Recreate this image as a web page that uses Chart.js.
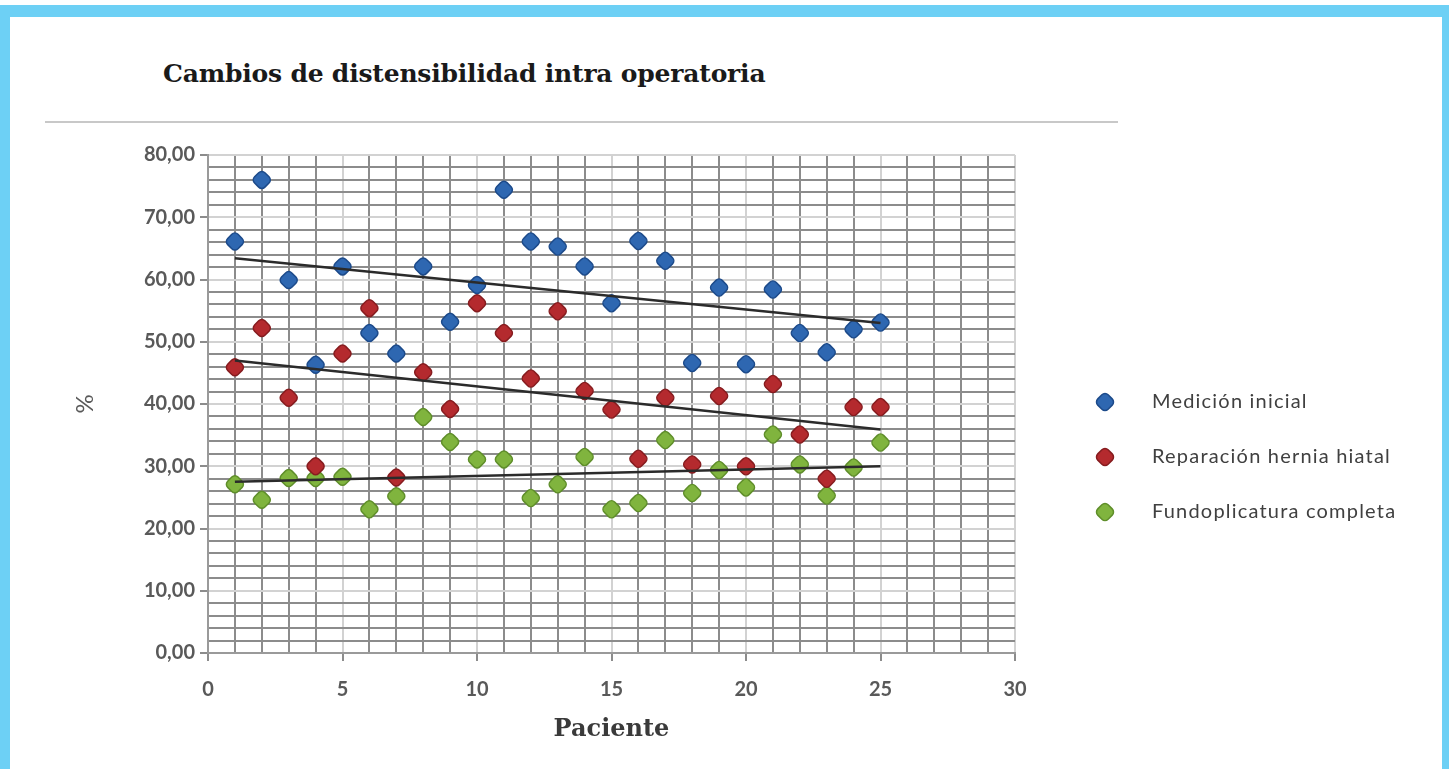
<!DOCTYPE html>
<html lang="es">
<head>
    <meta charset="UTF-8">
    <title>Cambios de distensibilidad intra operatoria</title>
    <script src="https://cdn.jsdelivr.net/npm/chart.js@4.4.0/dist/chart.umd.min.js"></script>
    <style>
        body { margin: 0; background: #fff; width: 1449px; height: 769px; overflow: hidden; position: relative; }
        .frame {
            position: absolute; left: 0; top: 5px; width: 1449px; height: 780px; box-sizing: border-box;
            border-left: 10px solid #6dd0f5; border-top: 12px solid #6dd0f5; border-right: 7px solid #6dd0f5;
        }
        .chart-title {
            position: absolute; left: 163px; top: 59px; margin: 0;
            font: bold 25px "DejaVu Serif", serif; color: #1a1a1a; white-space: nowrap; line-height: 30px;
            letter-spacing: -0.2px;
        }
        .rule { position: absolute; left: 45px; top: 121px; width: 1073px; height: 2px; background: #c8c8c8; }
        .chart-box { position: absolute; left: 0; top: 0; width: 1449px; height: 769px; }
    </style>
</head>
<body>
    <div class="frame"></div>
    <h1 class="chart-title">Cambios de distensibilidad intra operatoria</h1>
    <div class="rule"></div>
    <div class="chart-box">
        <canvas id="distChart"></canvas>
    </div>

<script>
    // data
    const pacientes = [1, 2, 3, 4, 5, 6, 7, 8, 9, 10, 11, 12, 13, 14, 15, 16, 17, 18, 19, 20, 21, 22, 23, 24, 25];
    const medicionInicial = [66.1, 76.0, 59.9, 46.3, 62.1, 51.4, 48.1, 62.1, 53.2, 59.1, 74.4, 66.1, 65.3, 62.1, 56.2, 66.2, 63.0, 46.6, 58.7, 46.4, 58.4, 51.4, 48.3, 52.0, 53.1];
    const reparacionHernia = [45.9, 52.2, 41.0, 30.0, 48.1, 55.4, 28.2, 45.1, 39.2, 56.2, 51.4, 44.1, 54.9, 42.1, 39.1, 31.2, 41.0, 30.3, 41.3, 30.0, 43.2, 35.1, 28.0, 39.5, 39.5];
    const fundoplicatura = [27.1, 24.6, 28.1, 28.1, 28.3, 23.1, 25.2, 37.9, 33.9, 31.1, 31.1, 24.9, 27.1, 31.5, 23.1, 24.1, 34.2, 25.7, 29.4, 26.6, 35.1, 30.3, 25.3, 29.8, 33.8];

    // trend line end points (as drawn in the figure)
    const trendX = [1, 25];
    const trendInicial = [63.4, 53.0];
    const trendReparacion = [47.0, 35.9];
    const trendFundo = [27.5, 30.0];

    const seriesNames = ['Medición inicial', 'Reparación hernia hiatal', 'Fundoplicatura completa'];
    const xTickLabels = ['0', '5', '10', '15', '20', '25', '30'];
    const yTickLabels = ['0,00', '10,00', '20,00', '30,00', '40,00', '50,00', '60,00', '70,00', '80,00'];

    const fills = ['#2e67b1', '#b42a2e', '#80b43e'];
    const borders = ['#1c4a8a', '#861c1f', '#5f8e2a'];

    function toPoints(xs, ys) {
        return xs.map((x, i) => ({ x: x, y: ys[i] }));
    }

    function pointSet(idx, values) {
        return {
            label: seriesNames[idx],
            data: toPoints(pacientes, values),
            backgroundColor: fills[idx],
            borderColor: borders[idx],
            borderWidth: 1.5,
            pointStyle: 'rectRounded',
            pointRotation: 45,
            pointRadius: 8.5,
            order: 1
        };
    }

    function trendSet(values) {
        return {
            label: 'trend',
            data: toPoints(trendX, values),
            showLine: true,
            borderColor: '#2b2b2b',
            borderWidth: 2.5,
            pointRadius: 0,
            order: 0
        };
    }

    const darkGrid = '#8c8c8c';
    const lightGrid = '#d2d2d2';

    // legend drawn at the right side, like the original
    const sideLegend = {
        id: 'sideLegend',
        afterDraw(chart) {
            const ctx = chart.ctx;
            ctx.save();
            ctx.font = '20px Lato, sans-serif';
            ctx.letterSpacing = '1.2px';
            ctx.textBaseline = 'middle';
            ctx.textAlign = 'left';
            for (let i = 0; i < 3; i++) {
                const y = 402 + i * 55;
                ctx.fillStyle = fills[i];
                ctx.strokeStyle = borders[i];
                ctx.lineWidth = 1.5;
                Chart.helpers.drawPoint(ctx, { pointStyle: 'rectRounded', radius: 8.5, rotation: 45, borderWidth: 1.5 }, 1105, y);
                ctx.fillStyle = '#404040';
                ctx.fillText(seriesNames[i], 1152, y);
            }
            ctx.restore();
        }
    };

    const ctx = document.getElementById('distChart').getContext('2d');
    new Chart(ctx, {
        type: 'scatter',
        data: {
            datasets: [
                trendSet(trendInicial),
                trendSet(trendReparacion),
                trendSet(trendFundo),
                pointSet(0, medicionInicial),
                pointSet(1, reparacionHernia),
                pointSet(2, fundoplicatura)
            ]
        },
        options: {
            responsive: true,
            maintainAspectRatio: false,
            animation: false,
            layout: { padding: { left: 68, top: 155, right: 434, bottom: 25 } },
            plugins: {
                legend: { display: false },
                tooltip: { enabled: false }
            },
            scales: {
                x: {
                    type: 'linear',
                    min: 0,
                    max: 30,
                    afterFit(axis) { axis.height = 91; },
                    ticks: {
                        stepSize: 1,
                        autoSkip: false,
                        maxRotation: 0,
                        padding: 17,
                        color: '#595959',
                        font: { family: 'Lato', size: 20, weight: 'bold' },
                        callback: v => (v % 5 === 0 ? xTickLabels[v / 5] : '')
                    },
                    grid: {
                        color: c => (c.tick && c.tick.value % 5 === 0 ? lightGrid : darkGrid),
                        tickColor: c => (c.tick && c.tick.value % 5 === 0 ? darkGrid : 'rgba(0,0,0,0)'),
                        lineWidth: 2,
                        tickLength: 8
                    },
                    border: { color: '#9a9a9a', width: 2 },
                    title: {
                        display: true,
                        text: 'Paciente',
                        color: '#3a3a3a',
                        font: { family: 'DejaVu Serif', size: 24, weight: 'bold' },
                        padding: { top: 0, bottom: 0 }
                    }
                },
                y: {
                    min: 0,
                    max: 80,
                    afterFit(axis) { axis.width = 140; },
                    ticks: {
                        stepSize: 2,
                        autoSkip: false,
                        padding: 5,
                        color: '#595959',
                        font: { family: 'Lato', size: 20, weight: 'bold' },
                        callback: v => (v % 10 === 0 ? yTickLabels[v / 10] : '')
                    },
                    grid: {
                        color: c => (c.tick && c.tick.value % 10 === 0 ? lightGrid : darkGrid),
                        tickColor: c => (c.tick && c.tick.value % 10 === 0 ? darkGrid : 'rgba(0,0,0,0)'),
                        lineWidth: 2,
                        tickLength: 8
                    },
                    border: { color: '#9a9a9a', width: 2 },
                    title: {
                        display: true,
                        text: '%',
                        color: '#595959',
                        font: { family: 'Lato', size: 24 },
                        padding: { top: 3, bottom: 0 }
                    }
                }
            }
        },
        plugins: [sideLegend]
    });
</script>
</body>
</html>
